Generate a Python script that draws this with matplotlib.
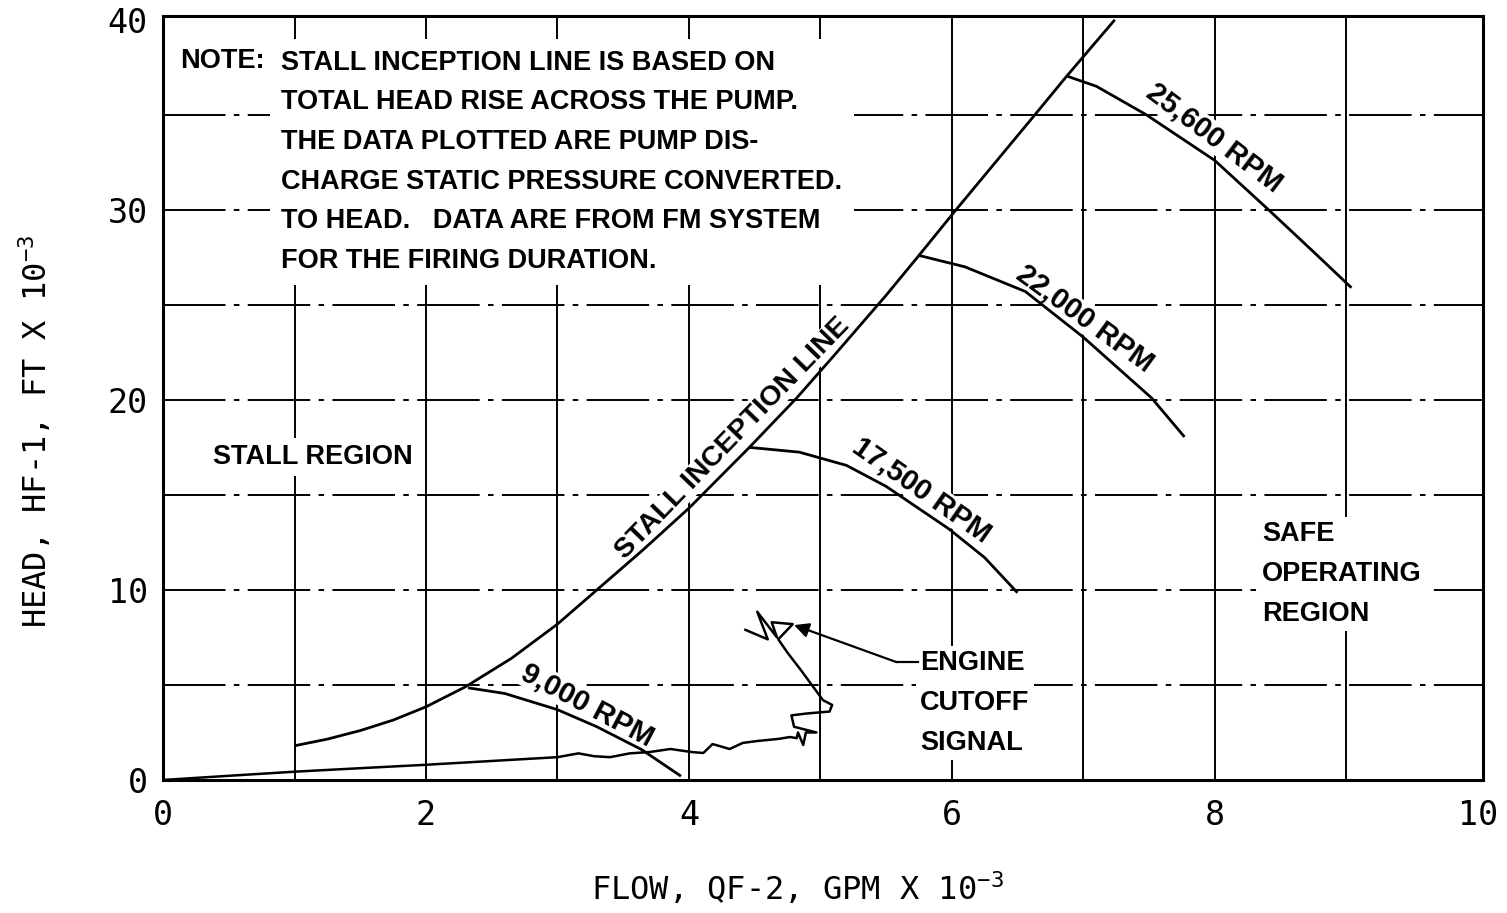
import numpy as np
import matplotlib
matplotlib.use("Agg")
import matplotlib.pyplot as plt

plt.rcParams['mathtext.fontset'] = 'custom'
plt.rcParams['mathtext.rm'] = 'DejaVu Sans Mono'
plt.rcParams['lines.scale_dashes'] = False

LABEL_FONT = ['Liberation Sans', 'DejaVu Sans']
TICK_FONT = 'DejaVu Sans Mono'

# stall inception line (flow gpm x 1e-3, head ft x 1e-3)
stall_x = [1.0, 1.25, 1.5, 1.75, 2.0, 2.3, 2.65, 3.0, 3.3, 3.65, 4.0, 4.46, 4.82, 5.1, 5.5, 5.75, 6.02, 6.62, 6.87, 7.24]
stall_y = [1.8, 2.15, 2.6, 3.15, 3.85, 4.9, 6.4, 8.2, 10.0, 12.1, 14.3, 17.5, 20.1, 22.3, 25.5, 27.6, 29.9, 34.9, 37.0, 40.0]

# constant speed lines
rpm_9000_x = [2.32, 2.6, 3.0, 3.3, 3.64, 3.94]
rpm_9000_y = [4.85, 4.55, 3.7, 2.8, 1.6, 0.2]
rpm_17500_x = [4.46, 4.84, 5.2, 5.5, 5.98, 6.25, 6.5]
rpm_17500_y = [17.5, 17.25, 16.55, 15.45, 13.2, 11.7, 9.85]
rpm_22000_x = [5.75, 6.1, 6.56, 7.0, 7.52, 7.77]
rpm_22000_y = [27.6, 27.0, 25.7, 23.3, 20.1, 18.05]
rpm_25600_x = [6.87, 7.1, 7.48, 8.0, 8.41, 8.75, 9.04]
rpm_25600_y = [37.05, 36.5, 35.0, 32.6, 30.0, 27.8, 25.9]

# measured operating trace
trace_x = [0.0, 0.5, 1.01, 1.5, 2.0, 2.5, 3.0, 3.16, 3.28, 3.4, 3.55, 3.7, 3.86, 4.02, 4.11,
           4.18, 4.31, 4.41, 4.52, 4.68, 4.77, 4.82, 4.83, 4.87, 4.89, 4.97, 4.80, 4.78, 4.90,
           5.07, 5.09, 5.02, 4.85, 4.75, 4.68, 4.79, 4.63, 4.67, 4.52, 4.60, 4.43]
trace_y = [0.0, 0.22, 0.44, 0.62, 0.80, 1.0, 1.2, 1.4, 1.25, 1.2, 1.4, 1.47, 1.63, 1.47, 1.42,
           1.89, 1.63, 1.95, 2.05, 2.16, 2.26, 2.2, 2.5, 1.84, 2.5, 2.5, 2.8, 3.4, 3.5,
           3.6, 3.95, 4.2, 5.8, 6.7, 7.4, 8.2, 8.3, 7.5, 8.85, 7.4, 7.9]

x_ticks = [0, 2, 4, 6, 8, 10]
y_ticks = [0, 10, 20, 30, 40]
v_grid = [1, 2, 3, 4, 5, 6, 7, 8, 9]
h_grid = [5, 10, 15, 20, 25, 30, 35]

note_text = ("STALL INCEPTION LINE IS BASED ON\n"
             "TOTAL HEAD RISE ACROSS THE PUMP.\n"
             "THE DATA PLOTTED ARE PUMP DIS-\n"
             "CHARGE STATIC PRESSURE CONVERTED.\n"
             "TO HEAD.   DATA ARE FROM FM SYSTEM\n"
             "FOR THE FIRING DURATION.")

fig = plt.figure(figsize=(15.07, 9.13), dpi=100)
ax = fig.add_axes([0.1082, 0.1457, 0.8758, 0.8368])
ax.set_xlim(0, 10.04)
ax.set_ylim(0, 40.2)

for gx in v_grid:
    ax.axvline(gx, color='black', lw=1.4, zorder=1)
for gy in h_grid:
    ax.axhline(gy, color='black', lw=1.4, dashes=(45, 6, 4, 6), zorder=1)

curve_kw = dict(color='black', lw=2.0, zorder=4, solid_capstyle='butt')
ax.plot(stall_x, stall_y, **curve_kw)
ax.plot(rpm_9000_x, rpm_9000_y, **curve_kw)
ax.plot(rpm_17500_x, rpm_17500_y, **curve_kw)
ax.plot(rpm_22000_x, rpm_22000_y, **curve_kw)
ax.plot(rpm_25600_x, rpm_25600_y, **curve_kw)
ax.plot(trace_x, trace_y, color='black', lw=1.8, zorder=4)

# engine cutoff pointer
ax.annotate('', xy=(4.80, 8.15), xytext=(5.58, 6.2),
            arrowprops=dict(arrowstyle='-|>', color='black', lw=1.6,
                            mutation_scale=22, shrinkA=0, shrinkB=0), zorder=4)
ax.plot([5.58, 5.74], [6.2, 6.2], color='black', lw=1.6, zorder=4)

box = dict(facecolor='white', edgecolor='none', pad=0.15)
txt_kw = dict(family=LABEL_FONT, fontweight='bold', fontsize=19.5, color='black', zorder=3)
rpm_kw = {**txt_kw, 'fontsize': 21}

ax.text(0.90, 38.42, note_text, ha='left', va='top', linespacing=1.68,
        bbox=dict(facecolor='white', edgecolor='none', pad=8), **txt_kw)
ax.text(0.13, 37.85, "NOTE:", ha='left', va='center',
        bbox=dict(facecolor='white', edgecolor='none', pad=6), **{**txt_kw, 'zorder': 3.5})
ax.text(0.38, 17.0, "STALL REGION", ha='left', va='center',
        bbox=dict(facecolor='white', edgecolor='none', pad=4), **txt_kw)
ax.text(8.36, 10.84, "SAFE\nOPERATING\nREGION", ha='left', va='center', linespacing=1.68,
        bbox=dict(facecolor='white', edgecolor='none', pad=3), **txt_kw)
ax.text(5.76, 4.05, "ENGINE\nCUTOFF\nSIGNAL", ha='left', va='center', linespacing=1.72,
        bbox=dict(facecolor='white', edgecolor='none', pad=3), **txt_kw)

ax.text(4.33, 17.95, "STALL INCEPTION LINE", ha='center', va='center', rotation=46,
        rotation_mode='anchor', bbox=box, **{**txt_kw, 'fontsize': 20.5})
ax.text(3.23, 3.95, "9,000 RPM", ha='center', va='center', rotation=-28,
        rotation_mode='anchor', bbox=box, **rpm_kw)
ax.text(5.77, 15.26, "17,500 RPM", ha='center', va='center', rotation=-35,
        rotation_mode='anchor', bbox=box, **rpm_kw)
ax.text(7.01, 24.3, "22,000 RPM", ha='center', va='center', rotation=-36,
        rotation_mode='anchor', bbox=box, **rpm_kw)
ax.text(8.0, 33.8, "25,600 RPM", ha='center', va='center', rotation=-37,
        rotation_mode='anchor', bbox=box, **rpm_kw)

ax.set_xticks(x_ticks)
ax.set_yticks(y_ticks)
ax.set_xticklabels([str(t) for t in x_ticks], family=TICK_FONT, fontsize=24)
ax.set_yticklabels([str(t) for t in y_ticks], family=TICK_FONT, fontsize=24)
ax.tick_params(axis='both', length=0)
ax.tick_params(axis='x', pad=14)
ax.tick_params(axis='y', pad=11)

for sp in ax.spines.values():
    sp.set_linewidth(2.2)

ax.set_xlabel(r"FLOW, QF-2, GPM X $\mathregular{10^{-3}}$", family=TICK_FONT, fontsize=23)
ax.set_ylabel(r"HEAD, HF-1, FT X $\mathregular{10^{-3}}$", family=TICK_FONT, fontsize=23)
ax.xaxis.set_label_coords(0.481, -0.118)
ax.yaxis.set_label_coords(-0.083, 0.457)

fig.savefig("out.png", dpi=100)
